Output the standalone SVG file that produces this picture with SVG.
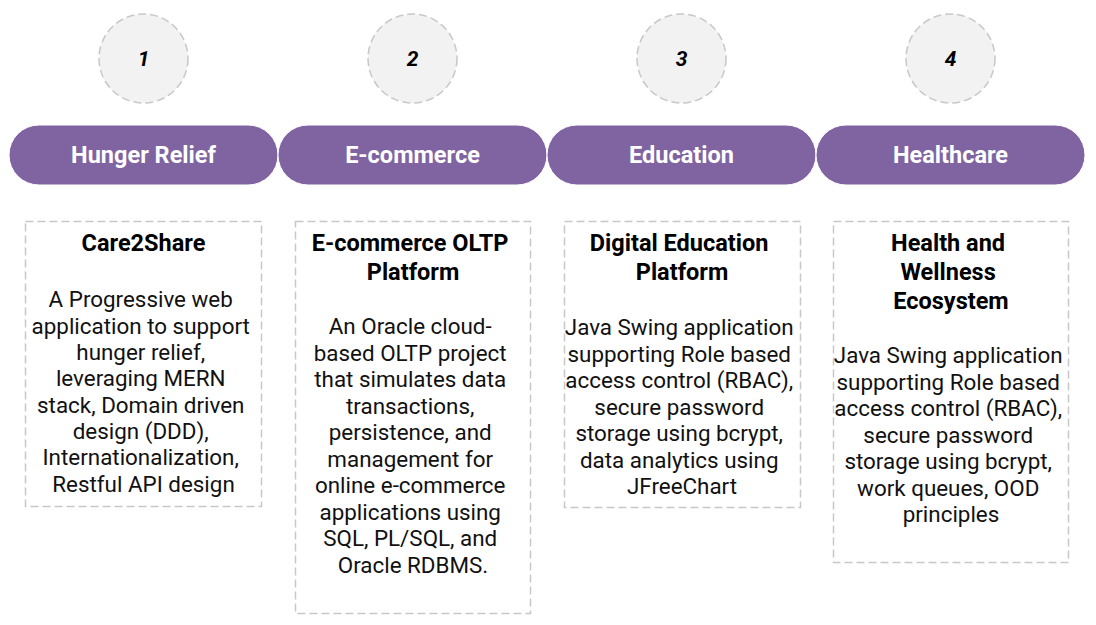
<svg xmlns="http://www.w3.org/2000/svg" width="1096" height="625" viewBox="0 0 1096 625">
<style>
.circ{fill:#f2f2f2;stroke:#c8c8c8;stroke-width:1.5;stroke-dasharray:8 4}
.num{font-family:Roboto,"Open Sans",sans-serif;font-size:21px;font-weight:bold;font-style:italic;fill:#000;text-anchor:middle}
.pill{fill:#8064a2;stroke:#ffffff;stroke-width:1}
.ptxt{font-family:Roboto,"Open Sans",sans-serif;font-size:23.5px;font-weight:bold;fill:#fff;text-anchor:middle}
.box{fill:#fff;stroke:#c8c8c8;stroke-width:1.5;stroke-dasharray:8 4}
.title{font-family:Roboto,"Open Sans",sans-serif;font-size:23.5px;font-weight:bold;fill:#000;text-anchor:middle}
.body{font-family:Roboto,"Open Sans",sans-serif;font-size:22.4px;fill:#111;text-anchor:middle}
</style>
<rect width="1096" height="625" fill="#fff"/>
<g id="step1">
<circle class="circ" cx="143.5" cy="58.5" r="44.5"/>
<text class="num" x="143.5" y="66">1</text>
<rect class="pill" x="9" y="125" width="269" height="60" rx="30"/>
<text class="ptxt" x="143.5" y="163">Hunger Relief</text>
<rect class="box" x="25.5" y="221.5" width="236" height="285"/>
<text class="title" x="143.5" y="251">Care2Share</text>
<text class="body" x="143.5" y="307">
<tspan x="143.5" y="307">A Progressive web</tspan>
<tspan x="143.5" y="333.5">application to support</tspan>
<tspan x="143.5" y="360">hunger relief,</tspan>
<tspan x="143.5" y="386">leveraging MERN</tspan>
<tspan x="143.5" y="412.5">stack, Domain driven</tspan>
<tspan x="143.5" y="439">design (DDD),</tspan>
<tspan x="143.5" y="465">Internationalization,</tspan>
<tspan x="143.5" y="491.5">Restful API design</tspan>
</text>
</g>
<g id="step2">
<circle class="circ" cx="412.5" cy="58.5" r="44.5"/>
<text class="num" x="412.5" y="66">2</text>
<rect class="pill" x="278" y="125" width="269" height="60" rx="30"/>
<text class="ptxt" x="412.5" y="163">E-commerce</text>
<rect class="box" x="295.5" y="221.5" width="235" height="392"/>
<text class="title" x="413" y="251">
<tspan x="413" y="251">E-commerce OLTP</tspan>
<tspan x="413" y="280">Platform</tspan>
</text>
<text class="body" x="413" y="334">
<tspan x="413" y="334">An Oracle cloud-</tspan>
<tspan x="413" y="360.5">based OLTP project</tspan>
<tspan x="413" y="387">that simulates data</tspan>
<tspan x="413" y="413.5">transactions,</tspan>
<tspan x="413" y="440">persistence, and</tspan>
<tspan x="413" y="466.5">management for</tspan>
<tspan x="413" y="493">online e-commerce</tspan>
<tspan x="413" y="519.5">applications using</tspan>
<tspan x="413" y="546">SQL, PL/SQL, and</tspan>
<tspan x="413" y="572.5">Oracle RDBMS.</tspan>
</text>
</g>
<g id="step3">
<circle class="circ" cx="681.5" cy="58.5" r="44.5"/>
<text class="num" x="681.5" y="66">3</text>
<rect class="pill" x="547" y="125" width="269" height="60" rx="30"/>
<text class="ptxt" x="681.5" y="163">Education</text>
<rect class="box" x="564.5" y="221.5" width="236" height="286"/>
<text class="title" x="682" y="251">
<tspan x="682" y="251">Digital Education</tspan>
<tspan x="682" y="280">Platform</tspan>
</text>
<text class="body" x="682" y="335">
<tspan x="682" y="335">Java Swing application</tspan>
<tspan x="682" y="361.5">supporting Role based</tspan>
<tspan x="682" y="388">access control (RBAC),</tspan>
<tspan x="682" y="414.5">secure password</tspan>
<tspan x="682" y="441">storage using bcrypt,</tspan>
<tspan x="682" y="467.5">data analytics using</tspan>
<tspan x="682" y="494">JFreeChart</tspan>
</text>
</g>
<g id="step4">
<circle class="circ" cx="950.5" cy="58.5" r="44.5"/>
<text class="num" x="950.5" y="66">4</text>
<rect class="pill" x="816" y="125" width="269" height="60" rx="30"/>
<text class="ptxt" x="950.5" y="163">Healthcare</text>
<rect class="box" x="833.5" y="221.5" width="235" height="341"/>
<text class="title" x="951" y="251">
<tspan x="951" y="251">Health and</tspan>
<tspan x="951" y="280">Wellness</tspan>
<tspan x="951" y="309">Ecosystem</tspan>
</text>
<text class="body" x="951" y="363">
<tspan x="951" y="363">Java Swing application</tspan>
<tspan x="951" y="389.5">supporting Role based</tspan>
<tspan x="951" y="416">access control (RBAC),</tspan>
<tspan x="951" y="442.5">secure password</tspan>
<tspan x="951" y="469">storage using bcrypt,</tspan>
<tspan x="951" y="495.5">work queues, OOD</tspan>
<tspan x="951" y="522">principles</tspan>
</text>
</g>
<g id="connectors"></g>
</svg>
